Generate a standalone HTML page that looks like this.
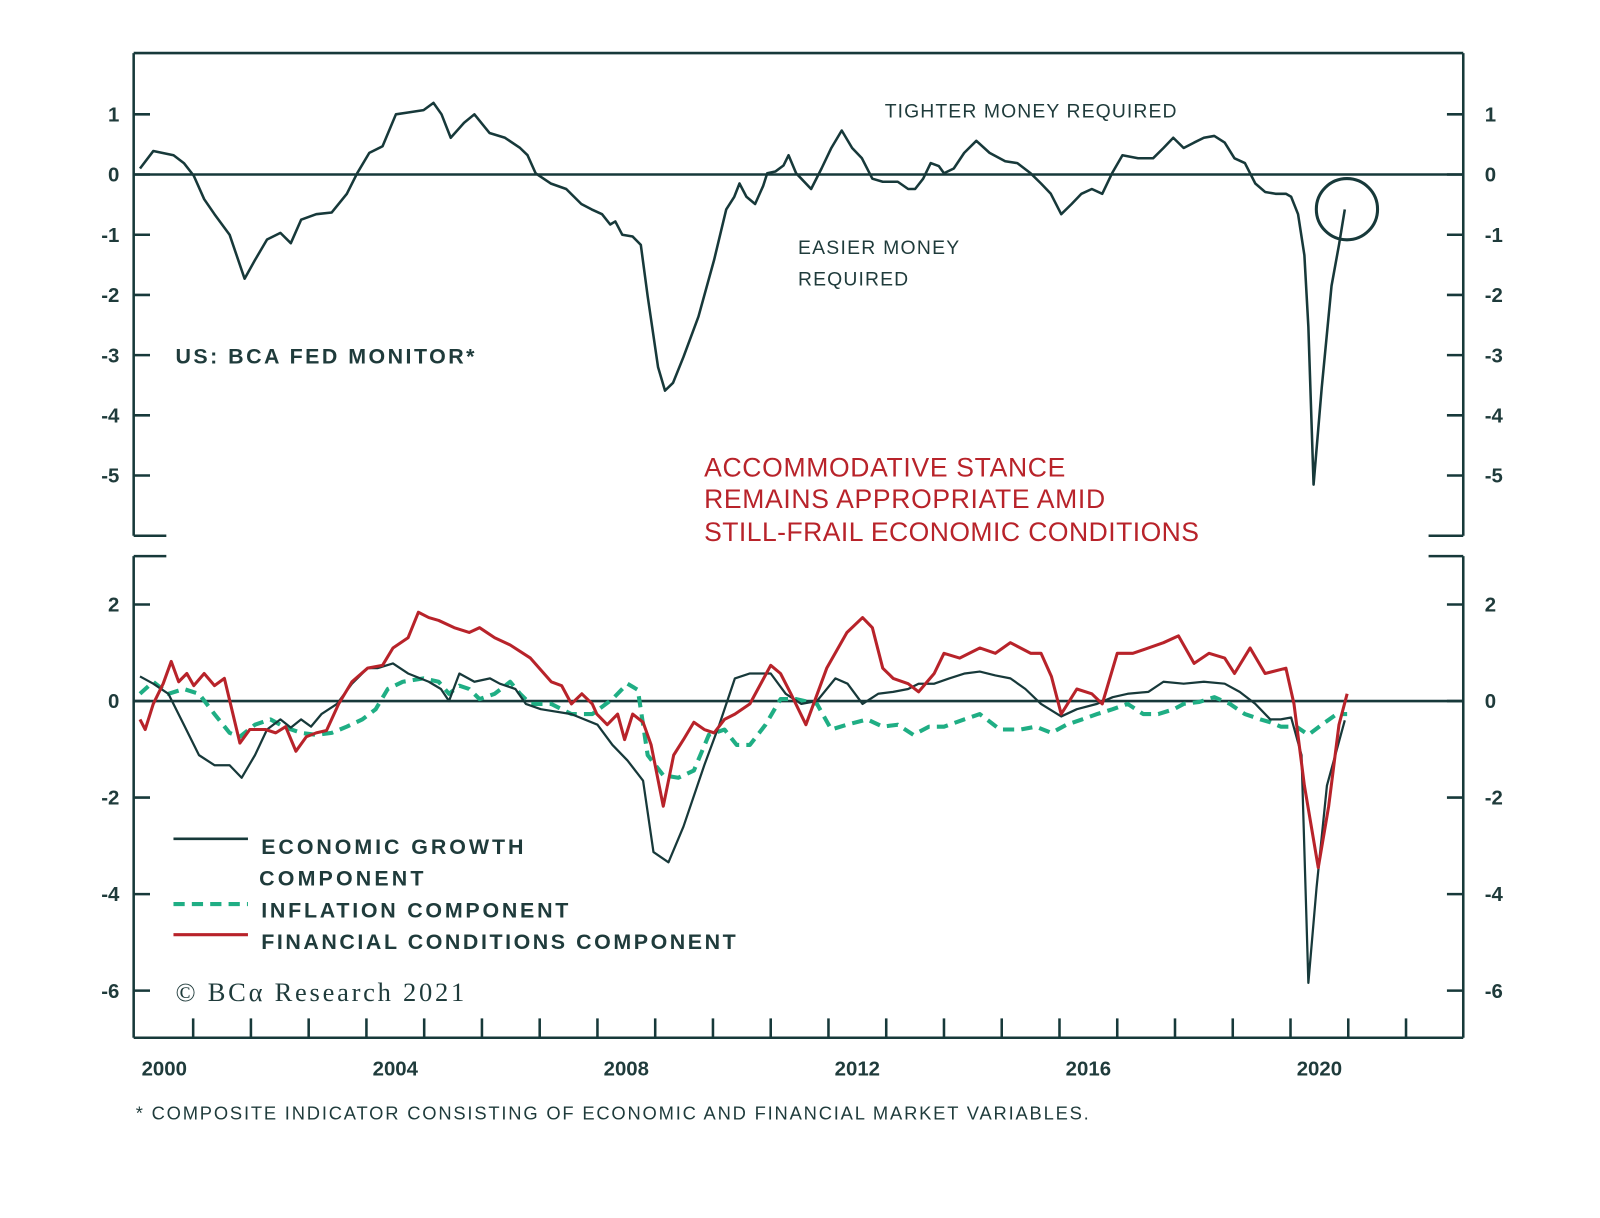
<!DOCTYPE html>
<html><head><meta charset="utf-8"><style>
html,body{margin:0;padding:0;background:#fff;}
svg{display:block;font-family:"Liberation Sans",sans-serif;}
.tk{font-size:20px;font-weight:bold;fill:#1f3b3b;}
</style></head><body>
<svg id="chart" width="1600" height="1218" viewBox="0 0 1568 1193.6">
<g id="frame"></g>
<g id="topSeries"></g>
<g id="botSeries"></g>
<text x="867" y="115" font-size="19" fill="#1f3b3b" textLength="286">TIGHTER MONEY REQUIRED</text>
<text x="782" y="249" font-size="19" fill="#1f3b3b" textLength="158">EASIER MONEY</text>
<text x="782" y="280" font-size="19" fill="#1f3b3b" textLength="108">REQUIRED</text>
<text x="172" y="356" font-size="21" font-weight="bold" fill="#1f3b3b" textLength="293">US: BCA FED MONITOR*</text>
<text x="690" y="467" font-size="26" fill="#b8232a" textLength="354">ACCOMMODATIVE STANCE</text>
<text x="690" y="498" font-size="26" fill="#b8232a" textLength="393">REMAINS APPROPRIATE AMID</text>
<text x="690" y="530" font-size="26" fill="#b8232a" textLength="485">STILL-FRAIL ECONOMIC CONDITIONS</text>
<circle cx="1320" cy="205" r="30" fill="none" stroke="#17393a" stroke-width="3"/>
<g>
<line x1="170" y1="822" x2="243" y2="822" stroke="#17393a" stroke-width="2.5"/>
<text x="256" y="837" font-size="21" font-weight="bold" fill="#1f3b3b" textLength="257">ECONOMIC GROWTH</text>
<text x="254" y="868" font-size="21" font-weight="bold" fill="#1f3b3b" textLength="161">COMPONENT</text>
<line x1="170" y1="886" x2="243" y2="886" stroke="#1fae84" stroke-width="4" stroke-dasharray="11,7"/>
<text x="256" y="899" font-size="21" font-weight="bold" fill="#1f3b3b" textLength="301">INFLATION COMPONENT</text>
<line x1="170" y1="916" x2="243" y2="916" stroke="#b8232a" stroke-width="3"/>
<text x="256" y="930" font-size="21" font-weight="bold" fill="#1f3b3b" textLength="465">FINANCIAL CONDITIONS COMPONENT</text>
</g>
<text x="172" y="981" font-size="26" font-family="Liberation Serif, serif" fill="#1f3b3b" textLength="283">© BCα Research 2021</text>
<text x="133" y="1097" font-size="18" fill="#1f3b3b" textLength="934">* COMPOSITE INDICATOR CONSISTING OF ECONOMIC AND FINANCIAL MARKET VARIABLES.</text>
</svg>
<script>
const topDates=[0.08,0.31,0.66,0.84,1.01,1.19,1.37,1.63,1.89,2.07,2.28,2.51,2.69,2.87,3.13,3.40,3.66,3.84,4.05,4.28,4.51,4.72,4.99,5.16,5.30,5.46,5.69,5.87,6.13,6.40,6.66,6.79,6.93,7.19,7.46,7.72,7.90,8.08,8.22,8.31,8.43,8.61,8.75,8.87,9.05,9.17,9.31,9.49,9.75,10.02,10.23,10.37,10.46,10.58,10.73,10.87,10.94,11.08,11.22,11.31,11.44,11.53,11.70,11.88,12.05,12.23,12.41,12.58,12.76,12.94,13.20,13.38,13.50,13.64,13.77,13.91,14.00,14.17,14.35,14.56,14.79,15.06,15.27,15.50,15.68,15.85,16.03,16.21,16.38,16.56,16.74,16.91,17.09,17.36,17.62,17.80,17.97,18.15,18.33,18.50,18.68,18.86,19.03,19.21,19.39,19.56,19.74,19.92,20.01,20.13,20.24,20.31,20.40,20.54,20.71,20.84,20.94];
const fedMonitor=[0.10,0.39,0.32,0.19,-0.02,-0.41,-0.66,-1.0,-1.73,-1.42,-1.08,-0.97,-1.14,-0.75,-0.66,-0.63,-0.32,0.02,0.36,0.47,1.0,1.03,1.07,1.19,1.0,0.61,0.86,1.0,0.69,0.61,0.44,0.32,0.02,-0.15,-0.24,-0.49,-0.58,-0.66,-0.83,-0.78,-1.0,-1.03,-1.17,-2.02,-3.2,-3.59,-3.46,-3.03,-2.36,-1.42,-0.58,-0.37,-0.15,-0.37,-0.49,-0.19,0.02,0.05,0.15,0.32,0.02,-0.07,-0.24,0.10,0.44,0.73,0.44,0.27,-0.07,-0.12,-0.12,-0.24,-0.24,-0.07,0.19,0.14,0.02,0.10,0.36,0.56,0.36,0.22,0.19,0.02,-0.15,-0.32,-0.66,-0.49,-0.32,-0.24,-0.32,0.02,0.32,0.27,0.27,0.44,0.61,0.44,0.53,0.61,0.64,0.53,0.27,0.19,-0.15,-0.29,-0.32,-0.32,-0.37,-0.66,-1.34,-2.53,-5.15,-3.54,-1.85,-1.17,-0.58];
const growthDates=[0.08,0.31,0.57,0.84,1.10,1.37,1.63,1.84,2.07,2.28,2.51,2.69,2.87,3.04,3.22,3.49,3.75,4.02,4.19,4.46,4.72,5.08,5.29,5.43,5.61,5.87,6.14,6.31,6.58,6.76,7.02,7.55,8.00,8.26,8.52,8.79,8.97,9.23,9.49,9.85,10.11,10.38,10.64,11.00,11.26,11.53,11.80,12.12,12.33,12.59,12.86,13.12,13.38,13.56,13.83,14.09,14.36,14.62,14.89,15.15,15.41,15.68,16.03,16.30,16.65,16.92,17.18,17.54,17.80,18.15,18.50,18.86,19.12,19.39,19.65,19.83,20.01,20.19,20.31,20.45,20.63,20.80,20.94];
const growthValues=[0.51,0.36,0.15,-0.49,-1.12,-1.33,-1.33,-1.59,-1.12,-0.59,-0.38,-0.55,-0.38,-0.53,-0.27,-0.06,0.36,0.68,0.68,0.78,0.57,0.40,0.25,0,0.57,0.40,0.47,0.36,0.25,-0.06,-0.17,-0.27,-0.49,-0.91,-1.23,-1.65,-3.13,-3.34,-2.60,-1.33,-0.49,0.47,0.57,0.57,0.15,-0.06,0,0.47,0.36,-0.06,0.15,0.19,0.25,0.36,0.36,0.47,0.57,0.61,0.53,0.47,0.25,-0.06,-0.32,-0.17,-0.06,0.08,0.15,0.19,0.40,0.36,0.40,0.36,0.19,-0.06,-0.38,-0.38,-0.34,-1.12,-5.84,-3.87,-1.75,-1.01,-0.40];
const financialDates=[0.08,0.17,0.31,0.48,0.62,0.75,0.89,1.01,1.19,1.37,1.54,1.81,1.98,2.25,2.43,2.60,2.78,2.96,3.13,3.31,3.52,3.75,4.02,4.28,4.46,4.72,4.90,5.08,5.25,5.52,5.78,5.96,6.22,6.49,6.84,7.20,7.38,7.55,7.73,7.91,7.99,8.17,8.35,8.47,8.61,8.79,8.93,9.14,9.32,9.49,9.67,9.85,10.02,10.20,10.38,10.64,11.00,11.17,11.35,11.61,11.97,12.32,12.59,12.76,12.94,13.12,13.38,13.56,13.83,14.00,14.27,14.62,14.89,15.15,15.50,15.68,15.86,16.03,16.30,16.56,16.74,17.00,17.27,17.54,17.80,18.06,18.33,18.59,18.86,19.03,19.30,19.56,19.92,20.06,20.24,20.48,20.66,20.84,20.98];
const financialValues=[-0.38,-0.59,-0.06,0.36,0.82,0.40,0.57,0.32,0.57,0.32,0.47,-0.87,-0.59,-0.59,-0.66,-0.53,-1.04,-0.74,-0.66,-0.61,-0.06,0.40,0.68,0.74,1.10,1.31,1.84,1.73,1.67,1.52,1.42,1.52,1.31,1.16,0.89,0.40,0.32,-0.06,0.15,-0.06,-0.27,-0.49,-0.27,-0.80,-0.27,-0.44,-0.91,-2.18,-1.12,-0.80,-0.44,-0.59,-0.66,-0.38,-0.27,-0.06,0.74,0.57,0.15,-0.49,0.68,1.42,1.73,1.52,0.68,0.47,0.36,0.19,0.57,0.99,0.89,1.10,0.99,1.21,0.99,0.99,0.51,-0.27,0.25,0.15,-0.06,0.99,0.99,1.10,1.21,1.35,0.78,0.99,0.89,0.57,1.10,0.57,0.68,-0.06,-1.75,-3.45,-2.18,-0.49,0.15];
const inflationDates=[0.08,0.31,0.57,0.84,1.10,1.37,1.63,1.81,2.07,2.34,2.60,2.87,3.13,3.40,3.66,3.93,4.16,4.37,4.63,4.99,5.25,5.43,5.61,5.78,5.96,6.22,6.49,6.66,6.84,7.20,7.55,7.91,8.26,8.52,8.70,8.87,9.14,9.40,9.67,9.93,10.20,10.41,10.64,10.91,11.17,11.44,11.80,12.05,12.32,12.67,12.94,13.20,13.47,13.74,14.00,14.35,14.62,14.97,15.33,15.59,15.86,16.12,16.39,16.65,16.92,17.18,17.45,17.71,17.98,18.15,18.42,18.68,18.95,19.21,19.48,19.65,19.83,20.10,20.31,20.54,20.80,20.98];
const inflationValues=[0.15,0.40,0.15,0.25,0.15,-0.27,-0.66,-0.74,-0.49,-0.38,-0.55,-0.66,-0.70,-0.66,-0.53,-0.38,-0.17,0.25,0.40,0.47,0.40,0.15,0.32,0.25,0.04,0.15,0.40,0.15,-0.06,-0.06,-0.27,-0.27,0.04,0.36,0.23,-1.12,-1.54,-1.59,-1.44,-0.70,-0.59,-0.91,-0.91,-0.49,0.04,0.04,-0.06,-0.59,-0.49,-0.38,-0.53,-0.49,-0.70,-0.53,-0.53,-0.38,-0.27,-0.59,-0.59,-0.53,-0.66,-0.49,-0.38,-0.27,-0.17,-0.06,-0.27,-0.27,-0.17,-0.06,-0.02,0.08,-0.06,-0.27,-0.38,-0.44,-0.53,-0.53,-0.70,-0.49,-0.27,-0.27];
const topTicks=[1,0,-1,-2,-3,-4,-5];
const botTicks=[2,0,-2,-4,-6];
const yearLabels=[2000,2004,2008,2012,2016,2020];

const NS='http://www.w3.org/2000/svg';
const X0=132.7, YR=56.6;
const xs=t=>X0+t*YR;
const yTop=v=>171-v*59;
const yBot=v=>687-v*47.3;
const L=131,R=1434,INK='#17393a';
function mk(tag,attrs,parent){const e=document.createElementNS(NS,tag);for(const k in attrs)e.setAttribute(k,attrs[k]);parent.appendChild(e);return e;}
const frame=document.getElementById('frame');
function seg(x1,y1,x2,y2,w,name){const l=mk('line',{x1,y1,x2,y2,stroke:INK,'stroke-width':w},frame);

}
seg(L,52,R,52,2.5,'top-border');
seg(L,52,L,525,2.5,'top-left-axis');seg(R,52,R,525,2.5,'top-right-axis');
seg(L,525,163,525,2.5,'top-left-cap');seg(1400,525,R,525,2.5,'top-right-cap');
seg(L,545,163,545,2.5,'bottom-left-cap');seg(1400,545,R,545,2.5,'bottom-right-cap');
seg(L,545,L,1017,2.5,'bottom-left-axis');seg(R,545,R,1017,2.5,'bottom-right-axis');
seg(L,1017,R,1017,2.5,'x-axis');
seg(L,yTop(0),R,yTop(0),2.5,'top-zero-line');
seg(L,yBot(0),R,yBot(0),2.5,'bottom-zero-line');
function ylab(x,y,s,anchor){const t=mk('text',{x,y,'text-anchor':anchor,class:'tk'},frame);t.textContent=s;

}
topTicks.forEach(v=>{const y=yTop(v);seg(L,y,L+16,y,2.5,'y-tick');seg(R-16,y,R,y,2.5,'y-tick');
ylab(117,y+7,String(v),'end');ylab(1455,y+7,String(v),'start');});
botTicks.forEach(v=>{const y=yBot(v);seg(L,y,L+16,y,2.5,'y-tick');seg(R-16,y,R,y,2.5,'y-tick');
ylab(117,y+7,String(v),'end');ylab(1455,y+7,String(v),'start');});
for(let k=1;k<=22;k++){seg(xs(k),998,xs(k),1017,2.5,'x-tick');}
yearLabels.forEach(yv=>{const t=mk('text',{x:xs(yv-2000+0.5),y:1054,'text-anchor':'middle',class:'tk'},frame);t.textContent=String(yv);

});
function line(g,dates,vals,yf,attrs,name){const d=dates.map((t,i)=>(i?'L':'M')+xs(t).toFixed(1)+','+yf(vals[i]).toFixed(1)).join('');
const p=mk('path',Object.assign({d,fill:'none','stroke-linejoin':'round'},attrs),g);

}
const gt=document.getElementById('topSeries'),gb=document.getElementById('botSeries');
line(gt,topDates,fedMonitor,yTop,{stroke:INK,'stroke-width':2.5},'fed-monitor-line');
line(gb,inflationDates,inflationValues,yBot,{stroke:'#1fae84','stroke-width':4,'stroke-dasharray':'11,7'},'inflation-line');
line(gb,growthDates,growthValues,yBot,{stroke:INK,'stroke-width':2.2},'growth-line');
line(gb,financialDates,financialValues,yBot,{stroke:'#b8232a','stroke-width':3},'financial-line');
</script>
</body></html>
